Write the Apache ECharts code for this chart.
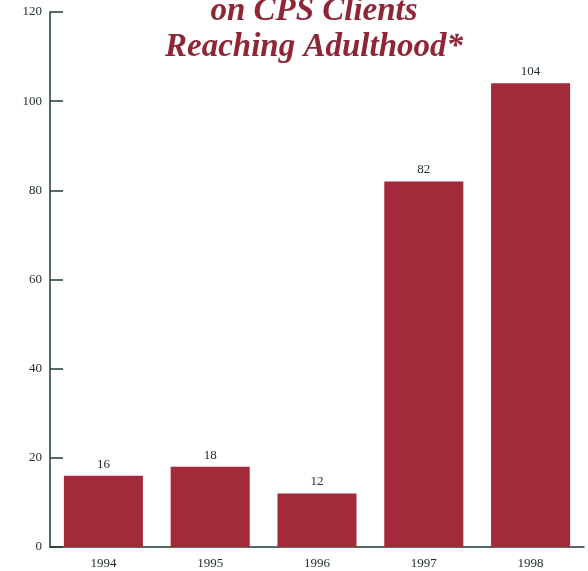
<!DOCTYPE html>
<html>
<head>
<meta charset="utf-8">
<script src="https://cdn.jsdelivr.net/npm/echarts@6/dist/echarts.min.js"></script>
<style>
  html, body { margin: 0; padding: 0; background: #fff; }
  #chart { width: 588px; height: 571px; }
</style>
</head>
<body>
<div id="chart"></div>
<script>
var years = ['1994', '1995', '1996', '1997', '1998'];
var clients = [16, 18, 12, 82, 104];
var yTicks = [0, 20, 40, 60, 80, 100, 120];
var titleLines = ['on CPS Clients', 'Reaching Adulthood*'];

var axisColor = '#1d3d30';
var textColor = '#22302b';
var barColor = '#a32a3b';
var titleColor = '#8e2636';
var titleFont = 'italic bold 33px "Liberation Serif", "DejaVu Serif", serif';

var chart = echarts.init(document.getElementById('chart'));

chart.setOption({
    backgroundColor: '#fff',
    animation: false,
    graphic: titleLines.map(function (line, i) {
        return {
            type: 'text',
            x: 314,
            y: 11 + i * 36,
            z: 10,
            style: {
                text: line,
                fill: titleColor,
                font: titleFont,
                align: 'center',
                verticalAlign: 'middle'
            }
        };
    }),
    grid: {
        left: 50,
        right: 4,
        top: 12,
        bottom: 24,
        containLabel: false
    },
    xAxis: {
        type: 'category',
        data: years,
        axisLine: { lineStyle: { color: axisColor, width: 1.5 } },
        axisTick: { inside: true, length: 11, lineStyle: { color: axisColor, width: 1.5 } },
        axisLabel: {
            color: textColor,
            fontFamily: '"Liberation Serif", serif',
            fontSize: 13,
            margin: 10
        }
    },
    yAxis: {
        type: 'value',
        min: yTicks[0],
        max: yTicks[yTicks.length - 1],
        interval: 20,
        splitLine: { show: false },
        axisLine: { show: true, lineStyle: { color: axisColor, width: 1.5 } },
        axisTick: { show: true, inside: true, length: 13, lineStyle: { color: axisColor, width: 1.5 } },
        axisLabel: {
            color: textColor,
            fontFamily: '"Liberation Serif", serif',
            fontSize: 13,
            margin: 8
        }
    },
    series: [{
        type: 'bar',
        data: clients,
        barCategoryGap: '26%',
        itemStyle: { color: barColor },
        label: {
            show: true,
            position: 'top',
            distance: 5,
            color: textColor,
            fontFamily: '"Liberation Serif", serif',
            fontSize: 13
        }
    }]
});
</script>
</body>
</html>
